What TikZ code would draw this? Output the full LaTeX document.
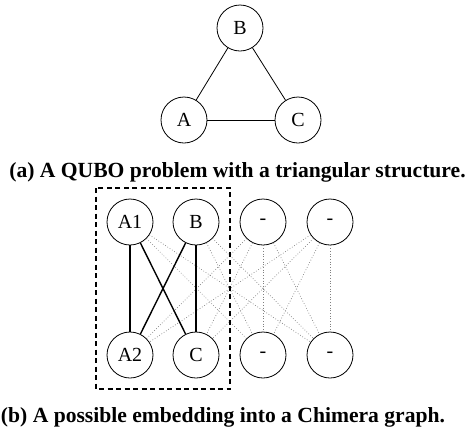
\documentclass[tikz,border=0pt]{standalone}
\usepackage{fontspec}
\setmainfont{Liberation Serif}
\begin{document}
\begin{tikzpicture}[x=1pt,y=-1pt,
  vtx/.style={circle,draw,line width=0.8pt,minimum size=46pt,inner sep=0pt,font=\fontsize{20}{24}\selectfont},
  tri/.style={line width=0.8pt},
  used/.style={line width=1.4pt},
  unused/.style={gray,dotted,line width=0.7pt},
  captext/.style={font=\bfseries\fontsize{21.6}{25}\selectfont,inner sep=0pt,anchor=base}]
\useasboundingbox (0,0) rectangle (474,429);
% (a)
\node[vtx] (tB) at (240,28) {B};
\node[vtx] (tA) at (184,120) {A};
\node[vtx] (tC) at (298,120) {C};
\draw[tri] (tA) -- (tB);
\draw[tri] (tB) -- (tC);
\draw[tri] (tA) -- (tC);
\node[captext] (capa) at (237.5,177) {(a) A QUBO problem with a triangular structure.};
% (b)
\node[vtx] (u1) at (130,222) {A1};
\node[vtx] (u2) at (196,222) {B};
\node[vtx] (u3) at (263,222) {-};
\node[vtx] (u4) at (330,222) {-};
\node[vtx] (d1) at (130,355) {A2};
\node[vtx] (d2) at (196,355) {C};
\node[vtx] (d3) at (263,355) {-};
\node[vtx] (d4) at (330,355) {-};
\foreach \u/\d in {u1/d3,u1/d4,u2/d3,u2/d4,u3/d1,u3/d2,u3/d3,u3/d4,u4/d1,u4/d2,u4/d3,u4/d4}
  \draw[unused] (\u) -- (\d);
\draw[used] (u1) -- (d1);
\draw[used] (u1) -- (d2);
\draw[used] (u2) -- (d1);
\draw[used] (u2) -- (d2);
\coordinate (bx1) at (96,188);
\coordinate (bx2) at (230,389);
\draw[line width=1.4pt,dash pattern=on 5pt off 3.5pt] (bx1) rectangle (bx2);
\node[captext] (capb) at (223,422) {(b) A possible embedding into a Chimera graph.};
\end{tikzpicture}
\end{document}
